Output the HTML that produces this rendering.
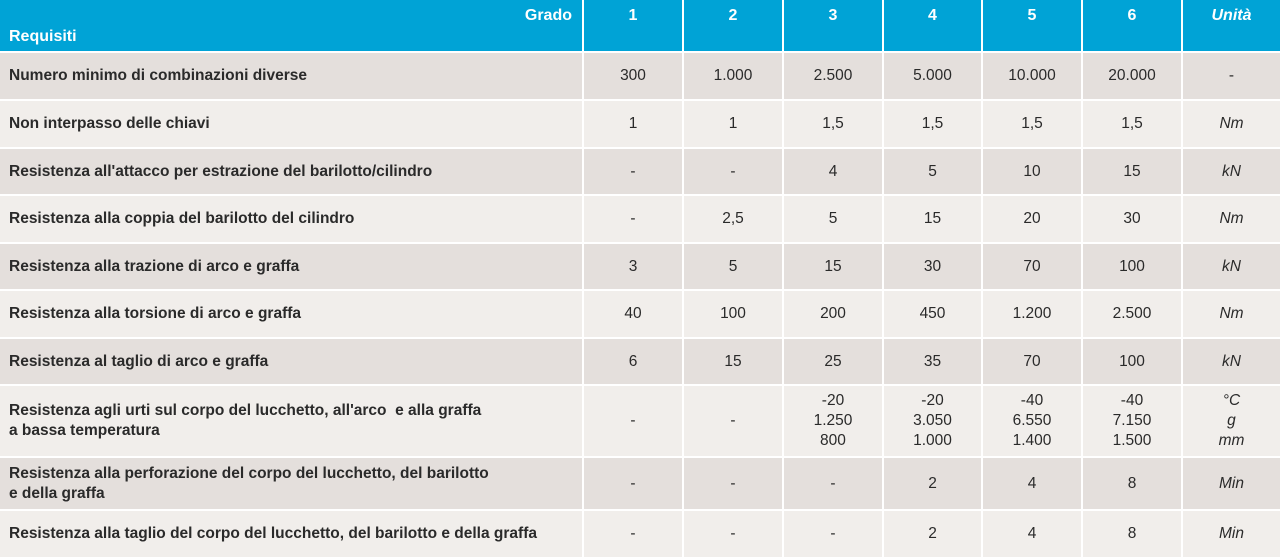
<!DOCTYPE html>
<html><head><meta charset="utf-8"><style>
html,body{margin:0;padding:0;background:#fff;width:1280px;height:559px;overflow:hidden}
.g{display:grid;grid-template-columns:582px 98px 98px 98px 97px 98px 98px 97px;grid-template-rows:51px 46px 46px 45px 46px 45px 46px 45px 70px 51px 46px;gap:2px;background:#fff;width:1280px;font-family:"Liberation Sans",sans-serif;font-size:15.5px;color:#2a2a2a}
.g>div{display:flex;align-items:center;justify-content:center;text-align:center;line-height:20px}
.h{background:#00a3d6;color:#fff;font-weight:bold;font-size:16px;align-items:flex-start!important;padding-top:6px;box-sizing:border-box}
.h.l{position:relative}
.d{background:#e4dfdc}.w{background:#f1eeeb}
.g>div.t{justify-content:flex-start;text-align:left;padding-left:9px;font-weight:bold;font-size:15.5px}
.u{font-style:italic}
</style></head><body>
<div class="g">
<div class="h l"><span style="position:absolute;right:10px;top:6px">Grado</span><span style="position:absolute;left:9px;top:27px">Requisiti</span></div>
<div class="h">1</div><div class="h">2</div><div class="h">3</div><div class="h">4</div><div class="h">5</div><div class="h">6</div><div class="h" style="font-style:italic">Unità</div>

<div class="d t">Numero minimo di combinazioni diverse</div><div class="d">300</div><div class="d">1.000</div><div class="d">2.500</div><div class="d">5.000</div><div class="d">10.000</div><div class="d">20.000</div><div class="d">-</div>

<div class="w t">Non interpasso delle chiavi</div><div class="w">1</div><div class="w">1</div><div class="w">1,5</div><div class="w">1,5</div><div class="w">1,5</div><div class="w">1,5</div><div class="w u">Nm</div>

<div class="d t">Resistenza all'attacco per estrazione del barilotto/cilindro</div><div class="d">-</div><div class="d">-</div><div class="d">4</div><div class="d">5</div><div class="d">10</div><div class="d">15</div><div class="d u">kN</div>

<div class="w t">Resistenza alla coppia del barilotto del cilindro</div><div class="w">-</div><div class="w">2,5</div><div class="w">5</div><div class="w">15</div><div class="w">20</div><div class="w">30</div><div class="w u">Nm</div>

<div class="d t">Resistenza alla trazione di arco e graffa</div><div class="d">3</div><div class="d">5</div><div class="d">15</div><div class="d">30</div><div class="d">70</div><div class="d">100</div><div class="d u">kN</div>

<div class="w t">Resistenza alla torsione di arco e graffa</div><div class="w">40</div><div class="w">100</div><div class="w">200</div><div class="w">450</div><div class="w">1.200</div><div class="w">2.500</div><div class="w u">Nm</div>

<div class="d t">Resistenza al taglio di arco e graffa</div><div class="d">6</div><div class="d">15</div><div class="d">25</div><div class="d">35</div><div class="d">70</div><div class="d">100</div><div class="d u">kN</div>

<div class="w t">Resistenza agli urti sul corpo del lucchetto, all'arco&nbsp; e alla graffa<br>a bassa temperatura</div><div class="w">-</div><div class="w">-</div><div class="w">-20<br>1.250<br>800</div><div class="w">-20<br>3.050<br>1.000</div><div class="w">-40<br>6.550<br>1.400</div><div class="w">-40<br>7.150<br>1.500</div><div class="w u">°C<br>g<br>mm</div>

<div class="d t">Resistenza alla perforazione del corpo del lucchetto, del barilotto<br>e della graffa</div><div class="d">-</div><div class="d">-</div><div class="d">-</div><div class="d">2</div><div class="d">4</div><div class="d">8</div><div class="d u">Min</div>

<div class="w t">Resistenza alla taglio del corpo del lucchetto, del barilotto e della graffa</div><div class="w">-</div><div class="w">-</div><div class="w">-</div><div class="w">2</div><div class="w">4</div><div class="w">8</div><div class="w u">Min</div>
</div>
</body></html>
